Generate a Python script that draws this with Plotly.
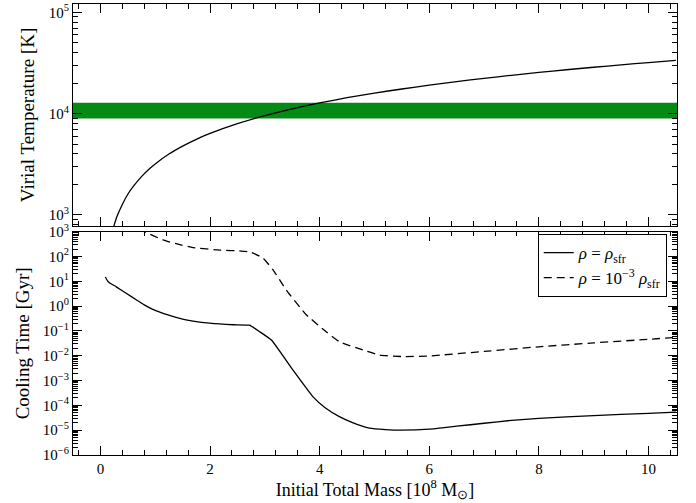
import plotly.graph_objects as go

# ---- data ----
mass_tvir = [0.2, 0.25, 0.3, 0.4, 0.5, 0.6, 0.75, 0.9, 1.0, 1.25, 1.5, 1.75, 2.0, 2.5, 3.0, 3.5,
             4.0, 4.5, 5.0, 5.5, 6.0, 6.5, 7.0, 7.5, 8.0, 8.5, 9.0, 9.5, 10.0, 10.5]
t_vir = [640, 790, 960, 1270, 1600, 1910, 2390, 2870, 3190, 3990, 4780, 5580, 6370, 7960, 9550, 11150,
         12750, 14350, 15950, 17500, 19100, 20700, 22300, 23900, 25500, 27100, 28700, 30300, 31900, 33500]

band_mass = [-0.5, 10.52, 10.52, -0.5]
band_temp = [8930, 8930, 12800, 12800]

mass_cool_sfr = [0.09, 0.13, 0.17, 0.29, 0.47, 0.66, 0.8, 0.9, 1.0, 1.26, 1.5, 1.69, 1.99, 2.42, 2.72,
                 2.9, 3.12, 3.51, 3.88, 4.1, 4.36, 4.6, 4.91, 5.2, 5.5, 6.0, 6.5, 7.0, 7.5, 8.0, 9.0,
                 10.0, 10.5]
t_cool_sfr = [15, 10.5, 8.6, 6.0, 3.3, 1.78, 1.12, 0.85, 0.68, 0.42, 0.30, 0.25, 0.205, 0.178, 0.17,
              0.095, 0.043, 0.0027, 2.2e-4, 8.0e-5, 3.5e-5, 2.0e-5, 1.2e-5, 1.05e-5, 1.0e-5, 1.1e-5,
              1.45e-5, 1.9e-5, 2.5e-5, 3.0e-5, 3.9e-5, 4.8e-5, 5.3e-5]

mass_cool_low = [0.7, 0.78, 1.14, 1.4, 1.69, 2.18, 2.57, 2.75, 2.97, 3.15, 3.39, 3.76, 4.12, 4.36,
                 4.79, 5.09, 5.5, 6.0, 7.0, 8.0, 9.0, 10.0, 10.5]
t_cool_low = [1300, 1050, 470, 320, 230, 182, 166, 148, 85, 29, 4.5, 0.44, 0.093, 0.037,
              0.017, 0.0107, 0.0093, 0.0098, 0.015, 0.023, 0.033, 0.046, 0.055]

top_tickvals = [1e3, 1e4, 1e5]
top_ticktext = ["10<sup>3</sup>", "10<sup>4</sup>", "10<sup>5</sup>"]
bot_tickvals = [1e-6, 1e-5, 1e-4, 1e-3, 1e-2, 1e-1, 1e0, 1e1, 1e2, 1e3]
bot_ticktext = ["10<sup>−6</sup>", "10<sup>−5</sup>", "10<sup>−4</sup>", "10<sup>−3</sup>",
                "10<sup>−2</sup>", "10<sup>−1</sup>", "10<sup>0</sup>", "10<sup>1</sup>",
                "10<sup>2</sup>", "10<sup>3</sup>"]
x_tickvals = [0, 2, 4, 6, 8, 10]

top_minor = [m * 10 ** e for e in range(2, 6) for m in range(2, 10)]
bot_minor = [m * 10.0 ** e for e in range(-6, 3) for m in range(2, 10)]

FONT = "Liberation Serif"

fig = go.Figure()

fig.add_trace(go.Scatter(x=band_mass, y=band_temp, fill="toself", mode="none",
                         fillcolor="#068a16", showlegend=False, xaxis="x2", yaxis="y2",
                         hoverinfo="skip"))
fig.add_trace(go.Scatter(x=mass_tvir, y=t_vir, mode="lines",
                         line=dict(color="black", width=1.3, shape="spline", smoothing=0.6),
                         showlegend=False, xaxis="x2", yaxis="y2"))

fig.add_trace(go.Scatter(x=mass_cool_sfr, y=t_cool_sfr, mode="lines",
                         line=dict(color="black", width=1.3, shape="spline", smoothing=0.4),
                         name="<i>ρ</i> = <i>ρ</i><sub>sfr</sub>", xaxis="x", yaxis="y"))
fig.add_trace(go.Scatter(x=mass_cool_low, y=t_cool_low, mode="lines",
                         line=dict(color="black", width=1.3, dash="8px,5px", shape="spline", smoothing=0.4),
                         name="<i>ρ</i> = 10<sup>−3</sup> <i>ρ</i><sub>sfr</sub>", xaxis="x", yaxis="y"))

axis_common = dict(showline=True, linecolor="black", linewidth=1.2, mirror="ticks",
                   ticks="inside", tickcolor="black", ticklen=9, tickwidth=1,
                   showgrid=False, zeroline=False, automargin=False,
                   tickfont=dict(family=FONT, size=15, color="black"))

fig.update_layout(
    width=696, height=503,
    margin=dict(l=73, r=19, t=4, b=48),
    paper_bgcolor="white", plot_bgcolor="white",
    font=dict(family=FONT, color="black"),
    xaxis=dict(domain=[0, 1], range=[-0.5, 10.52], anchor="y",
               tickvals=x_tickvals,
               minor=dict(ticks="inside", ticklen=4.5, dtick=0.4, tick0=0, tickcolor="black", showgrid=False),
               title=dict(text="Initial Total Mass [10<sup>8</sup> M<sub>⊙</sub>]",
                          font=dict(family=FONT, size=18), standoff=6),
               **axis_common),
    yaxis=dict(domain=[0, 0.4951], type="log", range=[-6, 3], anchor="x",
               tickvals=bot_tickvals, ticktext=bot_ticktext,
               minor=dict(ticks="inside", ticklen=4.5, tickvals=bot_minor, tickcolor="black", showgrid=False),
               title=dict(text="Cooling Time [Gyr]", font=dict(family=FONT, size=19), standoff=8),
               **axis_common),
    xaxis2=dict(domain=[0, 1], range=[-0.5, 10.52], anchor="y2", matches="x",
                tickvals=x_tickvals, showticklabels=False,
                minor=dict(ticks="inside", ticklen=4.5, dtick=0.4, tick0=0, tickcolor="black", showgrid=False),
                **axis_common),
    yaxis2=dict(domain=[0.5078, 1], type="log", range=[2.891, 5.082], anchor="x2",
                tickvals=top_tickvals, ticktext=top_ticktext,
                minor=dict(ticks="inside", ticklen=4.5, tickvals=top_minor, tickcolor="black", showgrid=False),
                title=dict(text="Virial Temperature [K]", font=dict(family=FONT, size=19), standoff=8),
                **axis_common),
    legend=dict(x=0.983, y=0.49, xanchor="right", yanchor="top",
                bgcolor="white", bordercolor="black", borderwidth=1,
                font=dict(family=FONT, size=17, color="black"),
                itemwidth=30, tracegroupgap=0, entrywidth=120, entrywidthmode="pixels"),
)

fig.write_html("out.html")
